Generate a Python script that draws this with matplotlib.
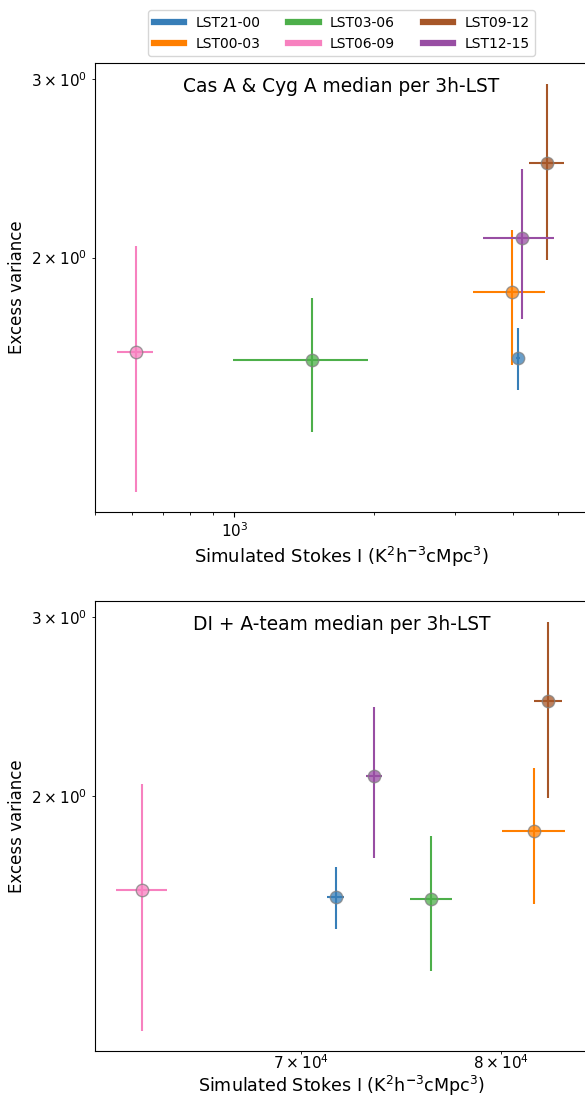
import numpy as np
import matplotlib
matplotlib.use("Agg")
import matplotlib.pyplot as plt
from matplotlib.lines import Line2D

# --- data ---
labels = ["LST21-00", "LST00-03", "LST03-06", "LST06-09", "LST09-12", "LST12-15"]
colors = ["#377eb8", "#ff7f00", "#4daf4a", "#f781bf", "#a65628", "#984ea3"]

# excess variance (same for both panels)
exvar = [1.592, 1.849, 1.585, 1.615, 2.479, 2.093]
exvar_err = [0.112, 0.282, 0.240, 0.440, 0.490, 0.355]

# Cas A & Cyg A simulated stokes I
casa_x = [4096, 3981, 1468, 612, 4738, 4172]
casa_xerr = [40, 700, 475, 54, 419, 723]

# DI + A-team simulated stokes I
di_x = [71650, 81790, 76350, 62950, 82540, 73480]
di_xerr = [400, 1725, 1085, 1060, 770, 390]

titles = ["Cas A & Cyg A median per 3h-LST", "DI + A-team median per 3h-LST"]
xlabel = r"Simulated Stokes I (K$^2$h$^{\mathbf{-}3}$cMpc$^3$)"

fig = plt.figure(figsize=(5.85, 10.97), dpi=100)
ax1 = fig.add_axes([95/585, 1-512/1097, 493/585, 449/1097])
ax2 = fig.add_axes([95/585, 1-1051/1097, 493/585, 450/1097])

for ax, xs, xerrs, title in [(ax1, casa_x, casa_xerr, titles[0]),
                             (ax2, di_x, di_xerr, titles[1])]:
    for i in range(len(labels)):
        ax.errorbar(xs[i], exvar[i], xerr=xerrs[i], yerr=exvar_err[i],
                    fmt='none', ecolor=colors[i], elinewidth=1.5, zorder=2)
        ax.scatter(xs[i], exvar[i], s=80, color=colors[i], alpha=0.75,
                   edgecolors='gray', linewidths=1, zorder=3)
    ax.set_xscale('log')
    ax.set_yscale('log')
    ax.set_ylim(1.122, 3.112)
    ax.set_ylabel("Excess variance", fontsize=12)
    ax.text(0.5, 0.947, title, transform=ax.transAxes, ha='center', va='center', fontsize=13.4)
    ax.tick_params(which='both', labelsize=11)

ax1.set_xlabel(xlabel, fontsize=13)
ax2.set_xlabel(xlabel, fontsize=12.6)
ax1.set_xlim(500, 5801)
ax2.set_xlim(61010, 84780)
ax2.tick_params(axis='x', which='both', pad=0)
ax1.xaxis.set_label_coords(0.5, -0.073)
ax2.xaxis.set_label_coords(0.5, -0.052)

handles = [Line2D([0], [0], color=c, lw=4.5) for c in colors]
ax1.legend(handles, labels, ncol=3, loc='lower center', bbox_to_anchor=(0.5, 1.0),
           fontsize=10, handlelength=2.2)

fig.savefig("out.png", dpi=100)
